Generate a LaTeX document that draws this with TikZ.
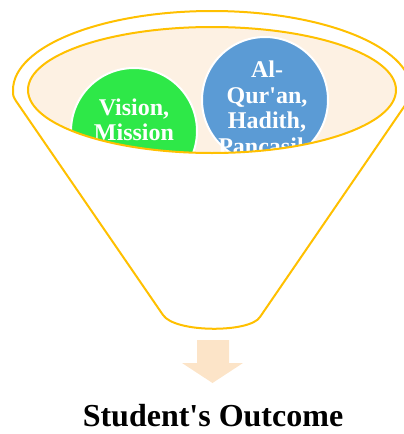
\documentclass[tikz,border=0pt]{standalone}
\usepackage{fontspec}
\setmainfont{Liberation Serif}
\definecolor{funnelgold}{RGB}{255,192,0}
\definecolor{bowlfill}{RGB}{253,241,227}
\definecolor{arrowfill}{RGB}{252,228,200}
\definecolor{visiongreen}{RGB}{46,232,72}
\definecolor{quranblue}{RGB}{91,155,213}

\begin{document}
\begin{tikzpicture}[x=1pt, y=-1pt,
    rim/.style={draw=funnelgold, line width=2pt},
    disc/.style={circle, minimum size=126pt, inner sep=0pt, fill=#1, draw=white, line width=2pt},
    disctext/.style={text=white, font=\bfseries\fontsize{24}{25.5}\selectfont, align=center, inner sep=0pt, anchor=north}]
  \useasboundingbox (0,0) rectangle (404,434);
  \draw[rim, fill=white] (16,101) -- (163,315) .. controls (175,333) and (250,333) .. (260,317) -- (408,101) .. controls (410,97) .. (411,90) arc[start angle=0, end angle=-180, x radius=199, y radius=79] .. controls (13,96) .. (16,101) -- cycle;
  \fill[bowlfill] (212,90) ellipse [x radius=184, y radius=63];
  \begin{scope}
    \clip (212,90) ellipse [x radius=184, y radius=63];
    \node[disc=visiongreen] (vision) at (134,131) {};
    \node[disctext] (visiontext) at (134,98.5) {Vision,\\Mission\\and};
    \node[disc=quranblue] (quran) at (265,100) {};
    \node[disctext] (qurantext) at (267,61) {Al-\\Qur\textquotesingle an,\\Hadith,\\Pancasila};
  \end{scope}
  \draw[rim] (212,90) ellipse [x radius=184, y radius=63];
  \fill[arrowfill] (197,340) -- (229,340) -- (229,363) -- (243,363) -- (212.5,383) -- (182,363) -- (197,363) -- cycle;
  \node[font=\bfseries\fontsize{32}{36}\selectfont, inner sep=0pt, anchor=base] (outcome) at (213,426) {Student\textquotesingle s Outcome};
\end{tikzpicture}
\end{document}
